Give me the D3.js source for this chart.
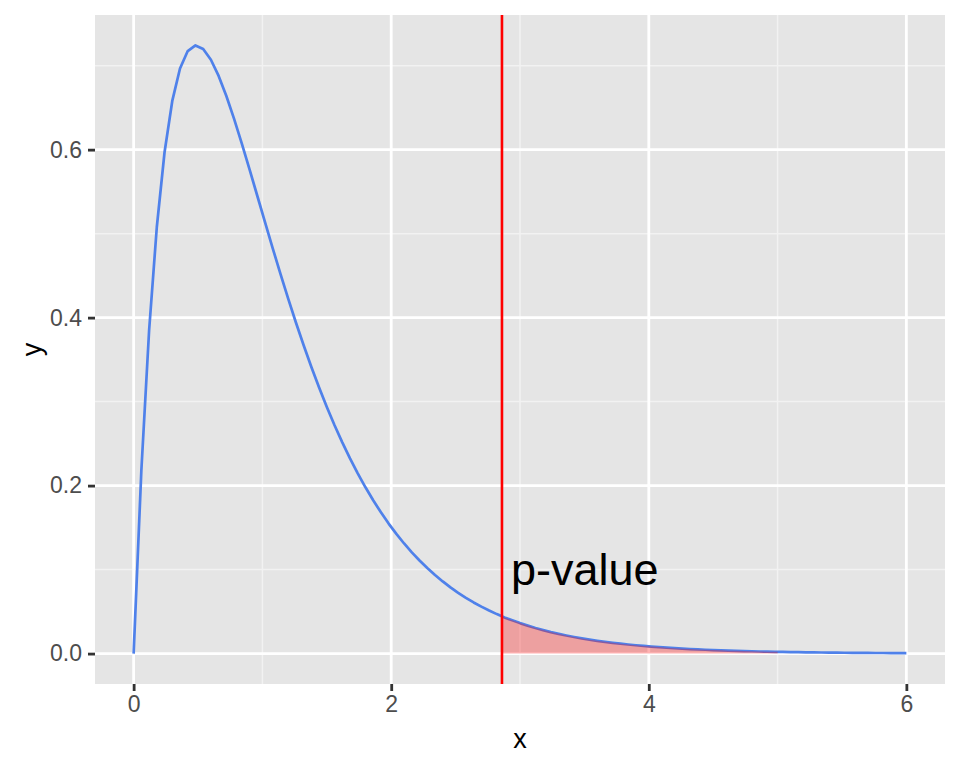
<!DOCTYPE html>
<html>
<head>
<meta charset="utf-8">
<script src="https://cdn.jsdelivr.net/npm/d3@7/dist/d3.min.js"></script>
<style>
  html, body { margin: 0; padding: 0; background: #ffffff; }
  svg { display: block; font-family: "Liberation Sans", Arial, Helvetica, sans-serif; }
</style>
</head>
<body>
<svg id="chart" width="960" height="768"></svg>
<script>
// ---- data ----
const xValues = [0, 0.06, 0.12, 0.18, 0.24, 0.3, 0.36, 0.42, 0.48, 0.54, 0.6, 0.66, 0.72, 0.78, 0.84, 0.9, 0.96, 1.02, 1.08, 1.14,
  1.2, 1.26, 1.32, 1.38, 1.44, 1.5, 1.56, 1.62, 1.68, 1.74, 1.8, 1.86, 1.92, 1.98, 2.04, 2.1, 2.16, 2.22, 2.28, 2.34,
  2.4, 2.46, 2.52, 2.58, 2.64, 2.7, 2.76, 2.82, 2.88, 2.94, 3, 3.06, 3.12, 3.18, 3.24, 3.3, 3.36, 3.42, 3.48, 3.54,
  3.6, 3.66, 3.72, 3.78, 3.84, 3.9, 3.96, 4.02, 4.08, 4.14, 4.2, 4.26, 4.32, 4.38, 4.44, 4.5, 4.56, 4.62, 4.68, 4.74,
  4.8, 4.86, 4.92, 4.98, 5.04, 5.1, 5.16, 5.22, 5.28, 5.34, 5.4, 5.46, 5.52, 5.58, 5.64, 5.7, 5.76, 5.82, 5.88, 5.94, 6];
const yValues = [0, 0.2183, 0.3844, 0.5079, 0.5969, 0.6580, 0.6966, 0.7174, 0.7241, 0.7198, 0.7070, 0.6878, 0.6639, 0.6366, 0.6072, 0.5765, 0.5451, 0.5136, 0.4825, 0.4521,
  0.4226, 0.3942, 0.3671, 0.3412, 0.3168, 0.2937, 0.2719, 0.2515, 0.2324, 0.2146, 0.1980, 0.1825, 0.1682, 0.1548, 0.1425, 0.1311, 0.1205, 0.1108, 0.1018, 0.0935,
  0.0859, 0.0788, 0.0724, 0.0664, 0.0609, 0.0559, 0.0513, 0.0470, 0.0431, 0.0396, 0.0363, 0.0333, 0.0305, 0.0280, 0.0256, 0.0235, 0.0216, 0.0198, 0.0181, 0.0166,
  0.0152, 0.0140, 0.0128, 0.0118, 0.0108, 0.0099, 0.0091, 0.0083, 0.0077, 0.0070, 0.0064, 0.0059, 0.0054, 0.0050, 0.0046, 0.0042, 0.0039, 0.0035, 0.0033, 0.0030,
  0.0028, 0.0025, 0.0023, 0.0021, 0.0020, 0.0018, 0.0017, 0.0015, 0.0014, 0.0013, 0.0012, 0.0011, 0.0010, 0.0009, 0.0009, 0.0008, 0.0007, 0.0007, 0.0006, 0.0006, 0.0005];

const criticalX = 2.86;          // red vertical line, start of shaded tail
const shadeEndX = 5;             // shaded tail ends here
const shadeStartY = 0.0444;      // curve height at criticalX
const shadeEndY = 0.0021;        // curve height at shadeEndX
const annotationText = "p-value";
const annotationX = 2.93;
const annotationY = 0.082;

const xTicks = [0, 2, 4, 6];
const xMinor = [1, 3, 5];
const yTicks = [0, 0.2, 0.4, 0.6];
const yMinor = [0.1, 0.3, 0.5, 0.7];
const xTitle = "x";
const yTitle = "y";

// ---- layout ----
const svg = d3.select("#chart");
const panel = { left: 95, right: 945, top: 15, bottom: 684 };

const xMin = d3.min(xValues), xMax = d3.max(xValues);
const yMin = 0, yMax = d3.max(yValues);
const xPad = (xMax - xMin) * 0.05, yPad = (yMax - yMin) * 0.05;

const x = d3.scaleLinear().domain([xMin - xPad, xMax + xPad]).range([panel.left, panel.right]);
const y = d3.scaleLinear().domain([yMin - yPad, yMax + yPad]).range([panel.bottom, panel.top]);

// panel background
svg.append("rect")
  .attr("x", panel.left).attr("y", panel.top)
  .attr("width", panel.right - panel.left).attr("height", panel.bottom - panel.top)
  .attr("fill", "#E5E5E5");

const grid = svg.append("g");
// minor grid
grid.selectAll("line.xminor").data(xMinor).enter().append("line")
  .attr("x1", d => x(d)).attr("x2", d => x(d))
  .attr("y1", panel.top).attr("y2", panel.bottom)
  .attr("stroke", "#F2F2F2").attr("stroke-width", 1.5);
grid.selectAll("line.yminor").data(yMinor).enter().append("line")
  .attr("y1", d => y(d)).attr("y2", d => y(d))
  .attr("x1", panel.left).attr("x2", panel.right)
  .attr("stroke", "#F2F2F2").attr("stroke-width", 1.5);
// major grid
grid.selectAll("line.xmajor").data(xTicks).enter().append("line")
  .attr("x1", d => x(d)).attr("x2", d => x(d))
  .attr("y1", panel.top).attr("y2", panel.bottom)
  .attr("stroke", "#FFFFFF").attr("stroke-width", 2.8);
grid.selectAll("line.ymajor").data(yTicks).enter().append("line")
  .attr("y1", d => y(d)).attr("y2", d => y(d))
  .attr("x1", panel.left).attr("x2", panel.right)
  .attr("stroke", "#FFFFFF").attr("stroke-width", 2.8);

// density curve
const points = xValues.map((v, i) => [v, yValues[i]]);
svg.append("path")
  .datum(points)
  .attr("fill", "none")
  .attr("stroke", "#4F81EA")
  .attr("stroke-width", 2.7)
  .attr("stroke-linejoin", "round")
  .attr("d", d3.line().x(d => x(d[0])).y(d => y(d[1])));

// shaded tail
const shadePts = [[criticalX, shadeStartY]]
  .concat(points.filter(p => p[0] > criticalX && p[0] < shadeEndX))
  .concat([[shadeEndX, shadeEndY]]);
svg.append("path")
  .datum(shadePts)
  .attr("fill", "#FF0000")
  .attr("fill-opacity", 0.3)
  .attr("d", d3.area().x(d => x(d[0])).y0(y(0)).y1(d => y(d[1])));

// red vertical line
svg.append("line")
  .attr("x1", x(criticalX)).attr("x2", x(criticalX))
  .attr("y1", panel.top).attr("y2", panel.bottom)
  .attr("stroke", "#FF0000").attr("stroke-width", 2.6);

// annotation
svg.append("text")
  .attr("x", x(annotationX)).attr("y", y(annotationY))
  .attr("font-size", 45).attr("fill", "#000000")
  .text(annotationText);

// axes
const xAxis = d3.axisBottom(x).tickValues(xTicks).tickFormat(d3.format("d")).tickSizeOuter(0).tickSize(7).tickPadding(5);
const gx = svg.append("g").attr("transform", `translate(0,${panel.bottom})`).call(xAxis);
gx.select(".domain").remove();
gx.selectAll(".tick line").attr("stroke", "#333333").attr("stroke-width", 2.8);
gx.selectAll(".tick text").attr("fill", "#4D4D4D").attr("font-size", 23).attr("font-family", "Liberation Sans, Arial, sans-serif");

const yAxis = d3.axisLeft(y).tickValues(yTicks).tickFormat(d3.format(".1f")).tickSizeOuter(0).tickSize(7).tickPadding(6);
const gy = svg.append("g").attr("transform", `translate(${panel.left},0)`).call(yAxis);
gy.select(".domain").remove();
gy.selectAll(".tick line").attr("stroke", "#333333").attr("stroke-width", 2.8);
gy.selectAll(".tick text").attr("fill", "#4D4D4D").attr("font-size", 23).attr("font-family", "Liberation Sans, Arial, sans-serif");

// axis titles
svg.append("text")
  .attr("x", (panel.left + panel.right) / 2).attr("y", 748)
  .attr("text-anchor", "middle").attr("font-size", 27).attr("fill", "#000000")
  .text(xTitle);
svg.append("text")
  .attr("transform", `translate(41,${(panel.top + panel.bottom) / 2}) rotate(-90)`)
  .attr("text-anchor", "middle").attr("font-size", 27).attr("fill", "#000000")
  .text(yTitle);
</script>
</body>
</html>
